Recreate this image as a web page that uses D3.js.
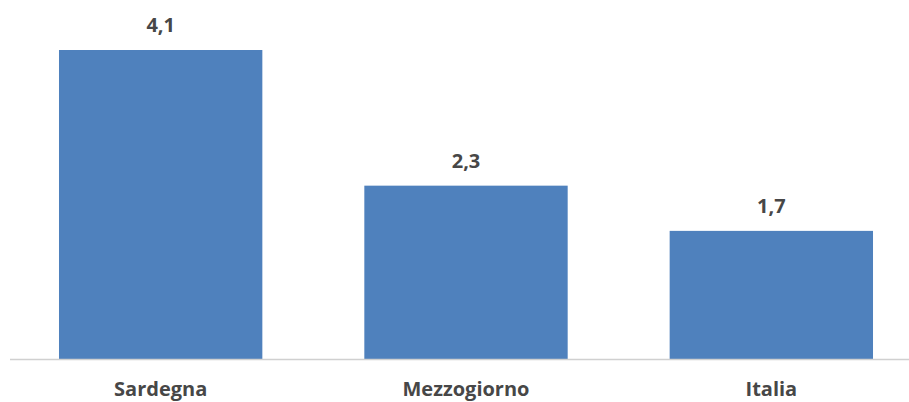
<!DOCTYPE html>
<html>
<head>
<meta charset="utf-8">
<script src="https://cdn.jsdelivr.net/npm/d3@7/dist/d3.min.js"></script>
<style>
  html, body { margin: 0; padding: 0; background: #ffffff; }
  svg { display: block; }
</style>
</head>
<body>
<svg id="chart" width="909" height="402"></svg>
<script>
// Regional values
const categories = ["Sardegna", "Mezzogiorno", "Italia"];
const values = [4.1, 2.3, 1.7];

const W = 909, H = 402;
const baseline = 359;
const svg = d3.select("#chart");

const x = d3.scaleBand()
  .domain(categories)
  .range([8, 924])
  .paddingInner(0.334)
  .paddingOuter(0.167);

const y = d3.scaleLinear()
  .domain([0, 4.1])
  .range([baseline, 50]);

const fmt = v => d3.format(".1f")(v).replace(".", ",");

// bars
svg.selectAll("rect.bar")
  .data(values)
  .join("rect")
  .attr("class", "bar")
  .attr("x", (d, i) => x(categories[i]))
  .attr("y", d => y(d))
  .attr("width", x.bandwidth())
  .attr("height", d => baseline - y(d))
  .attr("fill", "#4f81bd");

// category axis
const axis = svg.append("g")
  .attr("transform", `translate(0,${baseline})`)
  .call(d3.axisBottom(x).tickSize(0).tickPadding(0));
axis.select(".domain")
  .attr("d", `M10,0.5H909`)
  .attr("stroke", "#d0d0d0")
  .attr("stroke-width", 1.5);
axis.selectAll(".tick text")
  .attr("dy", 0)
  .attr("y", 37)
  .attr("fill", "#474747")
  .style("font-family", "'Open Sans', sans-serif")
  .style("font-weight", "bold")
  .style("font-size", "20px");

// value labels
svg.selectAll("text.val")
  .data(values)
  .join("text")
  .attr("class", "val")
  .attr("x", (d, i) => x(categories[i]) + x.bandwidth() / 2)
  .attr("y", d => y(d) - 18)
  .attr("text-anchor", "middle")
  .attr("fill", "#474747")
  .style("font-family", "'Open Sans', sans-serif")
  .style("font-weight", "bold")
  .style("font-size", "20px")
  .text(d => fmt(d));
</script>
</body>
</html>
